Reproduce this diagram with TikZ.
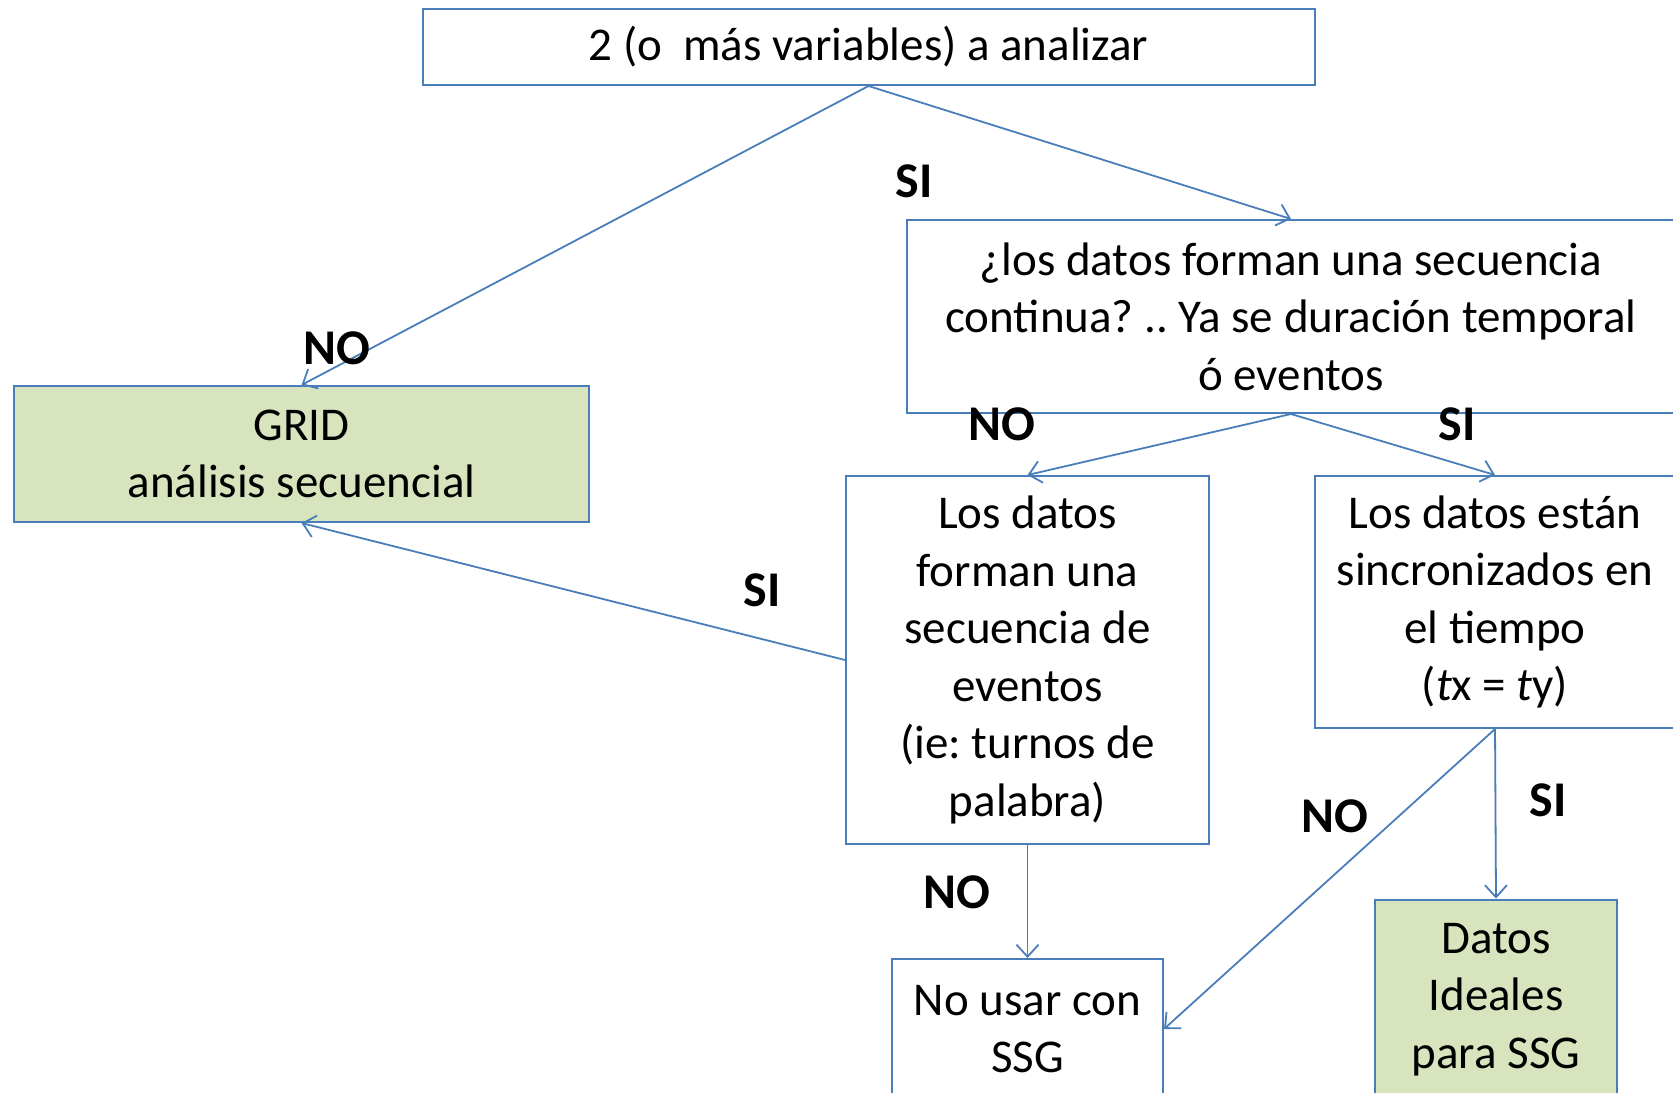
\documentclass[tikz,border=0pt]{standalone}
\usepackage{fontspec}
\setmainfont{Carlito}
\usepackage{tikz}
\usetikzlibrary{arrows.meta}
\frenchspacing
\definecolor{azul}{HTML}{4A7EBB}
\definecolor{verde}{HTML}{D7E4BD}
\tikzstyle{caja} = [draw=azul, line width=1pt, fill=white, rectangle, inner sep=0pt, align=center, font=\fontsize{23.5}{28.8}\selectfont]
\tikzstyle{cajaverde} = [caja, fill=verde]
\tikzstyle{flecha} = [draw=azul, line width=0.9pt, -{Straight Barb[length=6pt,width=11pt]}]
\tikzstyle{etiqueta} = [font=\fontsize{25}{30}\selectfont\bfseries, inner sep=0pt]

\begin{document}
\begin{tikzpicture}[x=0.5pt,y=-0.5pt]
	\clip (0,0) rectangle (1673,1092);
	\fill[white] (0,0) rectangle (1673,1092);
	\node[caja, minimum width=446pt, minimum height=38.25pt](inicio) at (868.5,46.75) {2 (o\ \ más variables) a analizar};
	\node[caja, minimum width=384pt, minimum height=96.5pt](continua) at (1291,316.5) {¿los datos forman una secuencia\\continua? .. Ya se duración temporal\\ó eventos};
	\node[cajaverde, minimum width=287.5pt, minimum height=68pt](grid) at (301.5,454) {GRID\\análisis secuencial};
	\node[caja, minimum width=181.5pt, minimum height=184pt](eventos) at (1027.5,660) {Los datos\\forman una\\secuencia de\\eventos\\(ie: turnos de\\palabra)};
	\node[caja, minimum width=180.5pt, minimum height=126pt](sincro) at (1495,602) {Los datos están\\sincronizados en\\el tiempo\\(\textit{t}x = \textit{t}y)};
	\node[caja, minimum width=135.5pt, minimum height=70pt](nousar) at (1027.5,1029) {No usar con\\SSG};
	\node[cajaverde, minimum width=121.25pt, minimum height=100pt](ideales) at (1496,999.5) {Datos\\Ideales\\para SSG};
	% flechas
	\draw[flecha] (inicio.south) -- (grid.north);
	\draw[flecha] (inicio.south) -- (continua.north);
	\draw[flecha] (continua.south) -- (eventos.north);
	\draw[flecha] (continua.south) -- (sincro.north);
	\draw[flecha] (eventos.west) -- (grid.south);
	\draw[flecha] (eventos.south) -- (nousar.north);
	\draw[flecha] (sincro.south) -- (nousar.east);
	\draw[flecha] (sincro.south) -- (ideales.north);
	% etiquetas
	\node[etiqueta](si1) at (914,181) {SI};
	\node[etiqueta](no1) at (337,348) {NO};
	\node[etiqueta](no2) at (1002,424) {NO};
	\node[etiqueta](si2) at (1457,424) {SI};
	\node[etiqueta](si3) at (762,590) {SI};
	\node[etiqueta](no3) at (1335,816) {NO};
	\node[etiqueta](si4) at (1548,800) {SI};
	\node[etiqueta](no4) at (957,892) {NO};
\end{tikzpicture}
\end{document}
